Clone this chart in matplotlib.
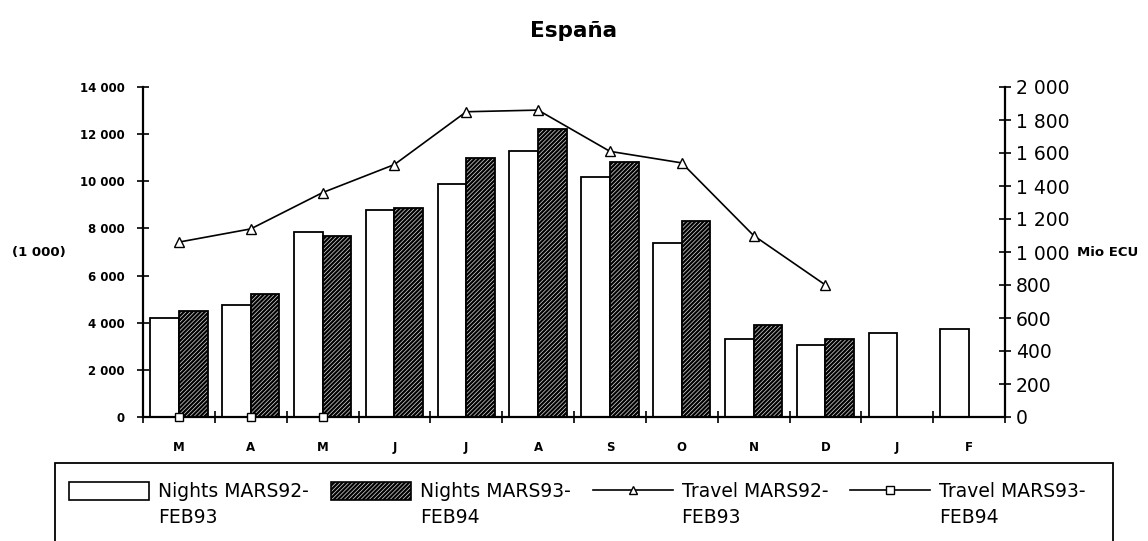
import numpy as np
import matplotlib.pyplot as plt
from matplotlib.patches import Patch, Rectangle
from matplotlib.lines import Line2D

plt.rcParams['font.family'] = ['DejaVu Sans']
plt.rcParams['hatch.linewidth'] = 1.6

# DATA
# ========================================================
months = ["M", "A", "M", "J", "J", "A", "S", "O", "N", "D", "J", "F"]
nights_92 = [4200, 4750, 7850, 8800, 9900, 11300, 10200, 7400, 3300, 3050, 3550, 3750]
nights_93 = [4500, 5200, 7700, 8850, 11000, 12200, 10800, 8300, 3900, 3300, None, None]
travel_92 = [1060, 1140, 1360, 1530, 1850, 1860, 1610, 1540, 1100, 800, None, None]
travel_93 = [0, 0, 0, None, None, None, None, None, None, None, None, None]
left_ticks = [0, 2000, 4000, 6000, 8000, 10000, 12000, 14000]
right_ticks = [0, 200, 400, 600, 800, 1000, 1200, 1400, 1600, 1800, 2000]
labels_first = ["Nights MARS92-", "Nights MARS93-", "Travel MARS92-", "Travel MARS93-"]
labels_second = ["FEB93", "FEB94", "FEB93", "FEB94"]
# ========================================================

W, H = 1148, 541
HATCH_FACE = "#d8d8d8"
HATCH = "////////"
LEG_FS = 13.5


def fmt(v):
    return f"{v:,}".replace(",", " ")


def to_arr(vals):
    return np.array([np.nan if v is None else v for v in vals], dtype=float)


fig = plt.figure(figsize=(W / 100, H / 100), dpi=100)
ax = fig.add_axes([143 / W, 1 - 417 / H, 862 / W, 330 / H])
x = np.arange(len(months))
w = 0.4

ax.bar(x - w / 2, to_arr(nights_92), width=w, color="white", edgecolor="black", linewidth=1.3)
ax.bar(x + w / 2, to_arr(nights_93), width=w, color=HATCH_FACE, edgecolor="black",
       linewidth=1.3, hatch=HATCH)

ax.set_xlim(-0.5, len(months) - 0.5)
ax.set_ylim(0, 14000)
ax.set_yticks(left_ticks)
ax.set_yticklabels([fmt(v) for v in left_ticks], fontsize=8.5, fontweight="bold")
ax.set_xticks(x)
ax.set_xticklabels(months, fontsize=8.5, fontweight="bold")
ax.set_xticks(np.arange(-0.5, len(months)), minor=True)
ax.tick_params(axis="x", which="major", length=0, pad=17)
ax.tick_params(axis="x", which="minor", direction="inout", length=8, width=1.2)
ax.tick_params(axis="y", direction="inout", length=8, width=1.2, pad=9)
for s in ["top", "right"]:
    ax.spines[s].set_visible(False)
ax.spines["left"].set_linewidth(1.6)
ax.spines["bottom"].set_linewidth(1.6)

ax2 = ax.twinx()
ax2.set_ylim(0, 2000)
ax2.plot(x, to_arr(travel_92), color="black", linewidth=1.2, marker="^",
         markersize=7, markerfacecolor="white", markeredgecolor="black")
ax2.plot(x, to_arr(travel_93), color="black", linewidth=1.2, marker="s",
         markersize=6, markerfacecolor="white", markeredgecolor="black", clip_on=False, zorder=5)
ax2.set_yticks(right_ticks)
ax2.set_yticklabels([fmt(v) for v in right_ticks], fontsize=13.5)
ax2.tick_params(axis="y", direction="inout", length=8, width=1.2, pad=4)
for s in ["top", "left", "bottom"]:
    ax2.spines[s].set_visible(False)
ax2.spines["right"].set_linewidth(1.6)

fig.text(0.5, 1 - 37 / H, "España", ha="center", va="baseline", fontsize=15.5, fontweight="bold")
fig.text(12 / W, 0.534, "(1 000)", ha="left", va="center", fontsize=9.5, fontweight="bold")
fig.text(1077 / W, 0.534, "Mio ECU", ha="left", va="center", fontsize=9.5, fontweight="bold")

# legend: frame drawn separately, it runs past the bottom edge
fig.patches.append(Rectangle((55 / W, -0.2), (1113 - 55) / W, 0.2 + 1 - 463 / H,
                             transform=fig.transFigure, fill=False,
                             edgecolor="black", linewidth=1.3))

handles = [
    Patch(facecolor="white", edgecolor="black", linewidth=1.2),
    Patch(facecolor=HATCH_FACE, edgecolor="black", linewidth=1.2, hatch=HATCH),
    Line2D([], [], color="black", linewidth=1.2, marker="^", markersize=6,
           markerfacecolor="white", markeredgecolor="black"),
    Line2D([], [], color="black", linewidth=1.2, marker="s", markersize=6,
           markerfacecolor="white", markeredgecolor="black"),
]
leg = fig.legend(handles, labels_first, loc="upper left", bbox_to_anchor=(69 / W, 1 - 482 / H),
                 ncol=4, fontsize=LEG_FS, frameon=False, borderpad=0, borderaxespad=0,
                 handlelength=4.27, handleheight=1.12, columnspacing=1.17,
                 handletextpad=0.48)

# second line of each legend label, set under the first
fig.canvas.draw()
for t, extra in zip(leg.get_texts(), labels_second):
    ext = t.get_window_extent()
    fig.text(ext.x0 / W, (ext.y0 - 7) / H, extra, ha="left", va="top", fontsize=LEG_FS)

plt.savefig("out.png", dpi=100)
